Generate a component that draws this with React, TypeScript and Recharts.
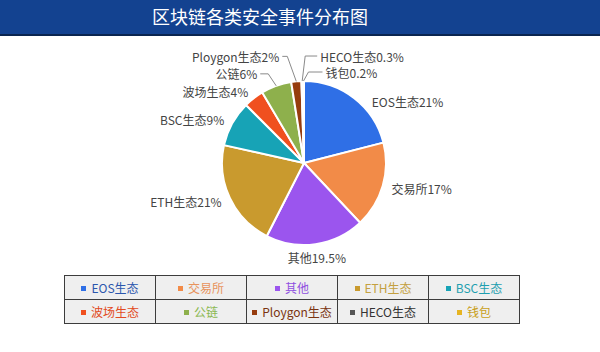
import { PieChart, Pie, Cell } from 'recharts'

const categories = ['EOS生态', '交易所', '其他', 'ETH生态', 'BSC生态', '波场生态', '公链', 'Ploygon生态', 'HECO生态', '钱包']
const shares = [21, 17, 19.5, 21, 9, 4, 6, 2, 0.3, 0.2]

const palette = ['#2f6fe6', '#f28b48', '#9b55ee', '#c99a2e', '#17a3b6', '#f0501f', '#8eb04c', '#963c0e', '#555555', '#e6b422']
const legendInk = ['#2b56ad', '#e8935c', '#8f4fe0', '#c4a040', '#1f9fb0', '#e24a22', '#8ab850', '#7a3410', '#333333', '#c9a020']

const data = categories.map((name, i) => ({ name, value: shares[i] }))

const FONT = '"Noto Sans CJK SC", "Noto Sans", sans-serif'
const CX = 304
const CY = 163
const R = 82
const RAD = Math.PI / 180

// small nudges for plain labels (echarts-style overlap avoidance in the original)
const nudge: Record<string, [number, number]> = {
  'EOS生态': [12, 10],
  '其他': [0, 4],
}

// leader lines for the thin slices: elbow offset from the slice edge, then a horizontal run
const leaders: Record<string, { ex: number; ey: number; run: number }> = {
  '公链': { ex: -8, ey: -12, run: -8 },
  'Ploygon生态': { ex: -9, ey: -25, run: -5 },
  'HECO生态': { ex: 3, ey: -25, run: 12 },
  '钱包': { ex: 5, ey: -9, run: 14 },
}

function renderLabel(props: any) {
  const { cx, cy, midAngle, outerRadius, name, value } = props
  const cos = Math.cos(-midAngle * RAD)
  const sin = Math.sin(-midAngle * RAD)
  const text = `${name}${value}%`
  const lead = leaders[name]
  if (lead) {
    const x0 = cx + outerRadius * cos
    const y0 = cy + outerRadius * sin
    const x1 = x0 + lead.ex
    const y1 = y0 + lead.ey
    const x2 = x1 + lead.run
    return (
      <g>
        <polyline points={`${x0},${y0} ${x1},${y1} ${x2},${y1}`} fill="none" stroke="#8a8a8a" strokeWidth={1} />
        <text
          x={x2 + (lead.run > 0 ? 3 : -3)}
          y={y1}
          textAnchor={lead.run > 0 ? 'start' : 'end'}
          dominantBaseline="central"
          fontSize={12}
          fill="#444"
          fontFamily={FONT}
        >
          {text}
        </text>
      </g>
    )
  }
  const r = outerRadius + 9
  const [dx, dy] = nudge[name] ?? [0, 0]
  const x = cx + r * cos + dx
  const y = cy + r * sin + dy
  const anchor = Math.abs(cos) < 0.3 ? 'middle' : cos > 0 ? 'start' : 'end'
  return (
    <text x={x} y={y} textAnchor={anchor} dominantBaseline="central" fontSize={12} fill="#444" fontFamily={FONT}>
      {text}
    </text>
  )
}

function LegendTable() {
  const rows = [categories.slice(0, 5), categories.slice(5, 10)]
  return (
    <table
      style={{
        position: 'absolute',
        left: 64,
        top: 275,
        borderCollapse: 'collapse',
        background: '#efefef',
        fontFamily: FONT,
        fontSize: 12,
        tableLayout: 'fixed',
      }}
    >
      <tbody>
        {rows.map((row, ri) => (
          <tr key={ri}>
            {row.map((name, ci) => {
              const i = ri * 5 + ci
              return (
                <td
                  key={name}
                  style={{
                    width: 90,
                    height: 23,
                    padding: 0,
                    border: '1px solid #3c3c3c',
                    textAlign: 'center',
                    color: legendInk[i],
                    whiteSpace: 'nowrap',
                  }}
                >
                  <span
                    style={{
                      display: 'inline-block',
                      width: 5,
                      height: 5,
                      background: palette[i],
                      marginRight: 5,
                      verticalAlign: 'middle',
                      position: 'relative',
                      top: -1,
                    }}
                  />
                  {name}
                </td>
              )
            })}
          </tr>
        ))}
      </tbody>
    </table>
  )
}

export default function App() {
  return (
    <div style={{ position: 'absolute', left: 0, top: 0, width: 600, height: 352, overflow: 'hidden', background: '#fff' }}>
      <div
        style={{
          position: 'absolute',
          left: 0,
          top: 0,
          width: 600,
          height: 34,
          background: '#134290',
          borderBottom: '2px solid #0a2550',
        }}
      />
      <div
        style={{
          position: 'absolute',
          left: 152,
          top: 4,
          color: '#fff',
          fontFamily: FONT,
          fontSize: 18,
          lineHeight: '24px',
          whiteSpace: 'nowrap',
        }}
      >
        区块链各类安全事件分布图
      </div>
      <div style={{ position: 'absolute', left: 0, top: 0 }}>
        <PieChart width={600} height={352} margin={{ top: 0, right: 0, bottom: 0, left: 0 }}>
          <Pie
            data={data}
            dataKey="value"
            nameKey="name"
            cx={CX}
            cy={CY}
            outerRadius={R}
            startAngle={90}
            endAngle={-270}
            stroke="#ffffff"
            strokeWidth={2}
            label={renderLabel}
            labelLine={false}
            isAnimationActive={false}
          >
            {data.map((d, i) => (
              <Cell key={d.name} fill={palette[i]} />
            ))}
          </Pie>
        </PieChart>
      </div>
      <LegendTable />
    </div>
  )
}
